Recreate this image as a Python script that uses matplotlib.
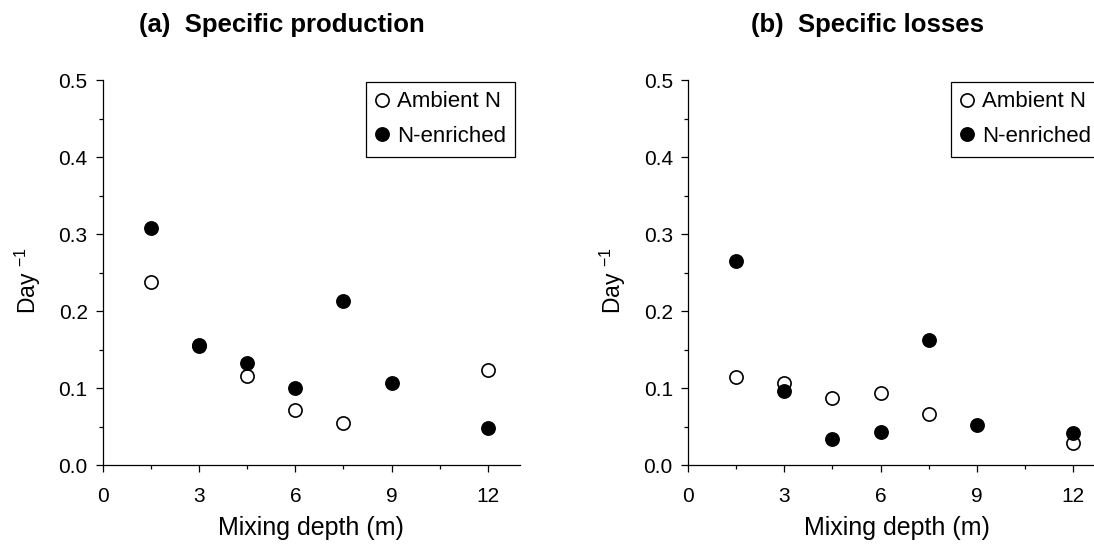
import matplotlib
matplotlib.use("Agg")
import matplotlib.pyplot as plt
from matplotlib.ticker import MultipleLocator, FormatStrFormatter

plt.rcParams["font.family"] = ["Liberation Sans", "DejaVu Sans"]
plt.rcParams["mathtext.fontset"] = "custom"
plt.rcParams["mathtext.rm"] = "Liberation Sans"
plt.rcParams["mathtext.default"] = "regular"

# Mixing depths (m) for each treatment
depth_ambient = [1.5, 3, 4.5, 6, 7.5, 12]
depth_enriched = [1.5, 3, 4.5, 6, 7.5, 9, 12]

# Specific production (day^-1)
prod_ambient = [0.238, 0.154, 0.116, 0.071, 0.054, 0.123]
prod_enriched = [0.308, 0.156, 0.133, 0.100, 0.2125, 0.1065, 0.048]

# Specific losses (day^-1)
loss_ambient = [0.114, 0.1065, 0.087, 0.094, 0.0665, 0.029]
loss_enriched = [0.265, 0.0956, 0.0335, 0.0435, 0.163, 0.052, 0.042]

panels = [
    ("(a)  Specific production", prod_ambient, prod_enriched),
    ("(b)  Specific losses", loss_ambient, loss_enriched),
]

fig = plt.figure(figsize=(10.94, 5.49), dpi=100)
axes = [
    fig.add_axes([0.0941, 0.153, 0.381, 0.701]),
    fig.add_axes([0.629, 0.153, 0.381, 0.701]),
]

for ax, (title, amb, enr) in zip(axes, panels):
    ax.plot(depth_ambient, amb, "o", ms=9.5, mfc="white", mec="black",
            mew=1.2, label="Ambient N", clip_on=False)
    ax.plot(depth_enriched, enr, "o", ms=9.5, mfc="black", mec="black",
            mew=1.2, label="N-enriched", clip_on=False)

    ax.set_xlim(0, 13)
    ax.set_ylim(0, 0.5)
    ax.spines["top"].set_visible(False)
    ax.spines["right"].set_visible(False)
    ax.spines["left"].set_linewidth(0.9)
    ax.spines["bottom"].set_linewidth(0.9)

    ax.xaxis.set_major_locator(MultipleLocator(3))
    ax.xaxis.set_minor_locator(MultipleLocator(1.5))
    ax.yaxis.set_major_locator(MultipleLocator(0.1))
    ax.yaxis.set_minor_locator(MultipleLocator(0.05))
    ax.yaxis.set_major_formatter(FormatStrFormatter("%.1f"))
    ax.tick_params(which="major", direction="out", length=5, width=0.9,
                   labelsize=15)
    ax.tick_params(which="minor", direction="out", length=3.2, width=0.9)
    ax.tick_params(axis="x", which="major", pad=11)
    ax.tick_params(axis="y", which="major", pad=6)

    ax.set_xlabel("Mixing depth (m)", fontsize=18, labelpad=7)
    ax.text(-0.181, 0.48, "Day $^{-1}$", rotation=90, fontsize=16.5,
            ha="center", va="center", transform=ax.transAxes)
    ax.text(0.43, 1.143, title, fontsize=18.5, fontweight="bold",
            ha="center", va="center", transform=ax.transAxes)

    leg = ax.legend(loc="upper left", bbox_to_anchor=(0.631, 0.995),
                    borderaxespad=0, fontsize=16, fancybox=False,
                    framealpha=1, edgecolor="black", handlelength=0.58,
                    handletextpad=0.39, labelspacing=0.62, borderpad=0.42)
    leg.get_frame().set_linewidth(0.9)

fig.savefig("out.png", dpi=100)
